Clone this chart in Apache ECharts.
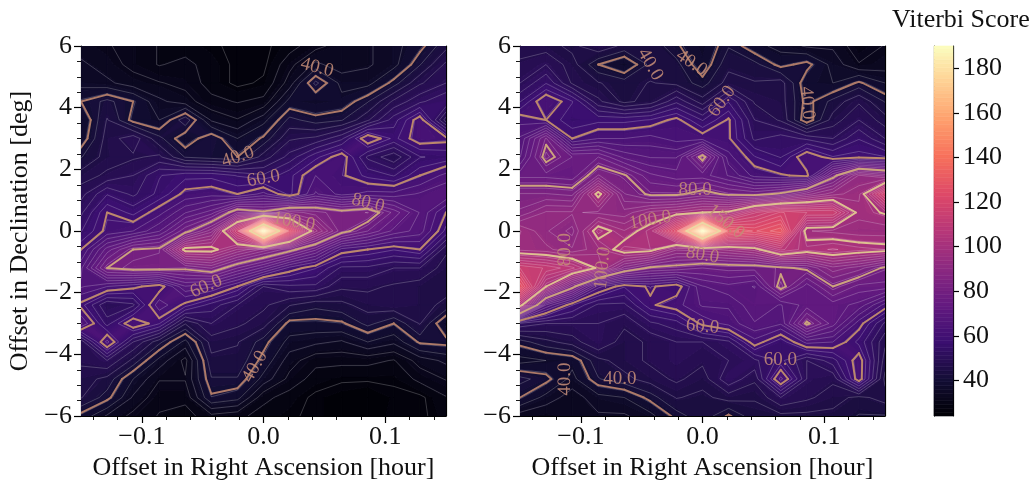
<!DOCTYPE html>
<html><head><meta charset="utf-8">
<style>html,body{margin:0;padding:0;background:#fff}#c{width:1032px;height:483px}</style>
<script src="https://cdn.jsdelivr.net/npm/echarts@6/dist/echarts.min.js"></script>
</head><body><div id="c"></div>
<script>
const raValues=[-0.15,-0.12857,-0.10714,-0.08571,-0.06429,-0.04286,-0.02143,0,0.02143,0.04286,0.06429,0.08571,0.10714,0.12857,0.15];
const decValues=[6,5.4,4.8,4.2,3.6,3,2.4,1.8,1.2,0.6,0,-0.6,-1.2,-1.8,-2.4,-3,-3.6,-4.2,-4.8,-5.4,-6];
const leftScores=[
[33,32,31,29,28,27,26,26,28,31,33,34,36,39,44],
[35,33,31,29,30,28,26,26,31,35,33,34,36,42,48],
[36,35,33,32,31,28,26,27,33,43,36,36,41,47,50],
[40,43,40,35,33,30,29,30,38,37,38,42,48,52,55],
[37,45,39,37,44,34,32,36,43,41,42,47,54,62,46],
[38,46,49,43,38,42,37,40.5,47,48,52,63,57,62,61],
[42,46,47,48,42,41,40,46,51,57,62,52,48,55,56],
[46,48,50,55,57,57,55,53,57,63,60.5,57,55,60,64],
[49,55,52,56,61,62,60,64,57,66,62,64,64,66,68],
[52,60,57,62,68,72,84,81,88,85,82,84,75,68,60],
[55,61,63,68,78,88,115,188,125,95,82,76,70,67,57],
[60,72,80,81,102,102,94,88,82,74,62,60,58,60,48],
[65,80,82,82,81,84,76,70,62,58,52,52,50,50,46],
[66,63,61,58,68,66,60,50,52,52,48,48,47,46,46],
[59,50,52,65,59,54,50,48,45,43,44,46,47,46,44],
[66,54,63,58,45,50,48,46,39,39,39.5,43,40,45,37],
[48,64,50,43,36,46,45,41,36,35,34,37,35,40.5,41],
[48,50,44,36,31,44,44,39,33,30,30,30,29,33,35],
[46,44,37,32,32,42,42,36,31,28,27,27,27,30,32],
[45,41,34,30,30,39.5,38,30,28,26,25,24,26,26,29],
[39,34,31,29,28,31,30,28,27,26,25,25,26,26,28]];
const rightScores=[
[46,46,44,47,44,44,40.5,37,42,38,36,34,34,30,32],
[48,50,46,40,37,43,43,38,44,43,39,41,36,32,33],
[50,55,47,45,43.5,45,44,41,46,45,46,38,37,40.5,37],
[55,63,58,48,44,46,52,46,55,47,46,39,43,47,42],
[62,60,56,57,57,58,61,55,60.5,50,47,38,46,50,46],
[66,79,60,63,63,64,62,62,60.5,52,54,52,50,55,50],
[68,82,76,76,70,68,68,82,64,58,55,63,58,59,58],
[75,75,74,84,80.5,74,72,72,68,62,60.5,59,78,92,88],
[84,84,83,102,84,79,79,82,79,78,81,88,93,96,118],
[87,92,92,91,90,95,97,100,101,112,118,115,115,98,100.5],
[97,92,88,103,97,103,125,190,130,125,130,97,96,95,95],
[96,95,92,96,103,102,92,93,95,98,108,103,105,103,102],
[115,112,108,99,85,79,78,76,77,77,79,81,88,85,79],
[128,100,82,64,58,60.5,58,68,70,68,82,72,80,75,75],
[103,68,58,52,52,59.5,62,66,66,70,68,72,72,70,62],
[52,50,50,50,48,52,54,61,64,68,66,81,72,61.5,52],
[41,44,46,50,46,48,50,50,52,62,56,64,63,57,48],
[36,37,38,44,46,48,50,48,50,52,56,50,54,62,46],
[43,41,36,42,44,46,48,46,52,48,64,50,48,62,44],
[40,36,33,36,37,41,45,44,46,45,50,48,46,44,46],
[33,32,33,34,34,36,41,44,39.5,44,44,44,44,42,42]];
const raMajor=[-0.1,0,0.1];
const raMinor=[-0.14,-0.12,-0.08,-0.06,-0.04,-0.02,0.02,0.04,0.06,0.08,0.12,0.14];
const cbTicks=[40,60,80,100,120,140,160,180];
const thickLevels=[40,60,80,100,150];
const thickColors=['#ad7a68','#bc886c','#cca37e','#dec190','#ecd8a4'];
const scoreMin=24, scoreMax=190;
const leftLabels=[["40.0",0.044,5.3,-0.25],["40.0",-0.021,2.4,0.33],["60.0",0,1.7,0.18],["80.0",0.086,0.9,-0.25],["100.0",0.025,0.3,-0.17],["60.0",-0.047,-1.8,0.42],["40.0",-0.007,-4.4,1.05]];
const rightLabels=[["40.0",-0.043,5.4,-1.05],["40.0",-0.009,5.45,-0.6],["60.0",0.016,4.2,0.95],["40.0",0.086,4.15,-1.48],["80.0",-0.006,1.33,0],["100.0",-0.043,0.35,0.17],["150.0",0.019,0.3,-0.7],["80.0",0,-0.78,-0.17],["80.0",-0.113,-0.6,1.57],["100.0",-0.082,-1.2,1.48],["60.0",0,-3.1,-0.09],["60.0",0.064,-4.2,0],["40.0",-0.113,-4.8,1.57],["40.0",-0.068,-4.8,0]];

const stops=[[0,0,4],[20,14,54],[59,15,112],[100,26,128],[140,41,129],[183,55,121],[222,73,104],[247,112,92],[254,159,109],[254,207,146],[252,253,191]];
function magma(v){let t=Math.max(0,Math.min(1,(v-scoreMin)/(scoreMax-scoreMin)))*10;let i=Math.min(9,Math.floor(t)),f=t-i;
 const a=stops[i],b=stops[i+1];return `rgb(${a.map((c,k)=>Math.round(c+(b[k]-c)*f)).join(',')})`;}
function clip(poly,L,above){const out=[];for(let i=0;i<poly.length;i++){const p=poly[i],q=poly[(i+1)%poly.length];
 const pi=above?p[2]>=L:p[2]<=L, qi=above?q[2]>=L:q[2]<=L;
 if(pi)out.push(p);
 if(pi!==qi){const f=(L-p[2])/(q[2]-p[2]);out.push([p[0]+(q[0]-p[0])*f,p[1]+(q[1]-p[1])*f,L]);}}
 return out;}
const fillStep=1.7;
function cellCorners(Z,i,j){return [[raValues[i],decValues[j],Z[j][i]],[raValues[i+1],decValues[j],Z[j][i+1]],[raValues[i+1],decValues[j+1],Z[j+1][i+1]],[raValues[i],decValues[j+1],Z[j+1][i]]];}
function cells(){const d=[];for(let j=0;j<decValues.length-1;j++)for(let i=0;i<raValues.length-1;i++)d.push([raValues[i],decValues[j],i,j]);return d;}
function fillRender(Z){return function(params,api){const i=api.value(2),j=api.value(3),q=cellCorners(Z,i,j);
 const vs=q.map(p=>p[2]),lo=Math.min(...vs),hi=Math.max(...vs),ch=[];
 let k0=Math.floor((lo-scoreMin)/fillStep),k1=Math.floor((hi-scoreMin)/fillStep);
 for(let k=k0;k<=k1;k++){const a=scoreMin+k*fillStep,b=a+fillStep;let p=clip(clip(q,a,true),b,false);if(p.length<3)continue;
  const col=magma(a+fillStep/2);
  ch.push({type:'polygon',shape:{points:p.map(v=>api.coord([v[0],v[1]]))},style:{fill:col,stroke:col,lineWidth:1}});}
 return {type:'group',children:ch};};}
function segs(q,L){const pts=[];for(let e=0;e<4;e++){const p=q[e],r=q[(e+1)%4];if((p[2]>=L)!==(r[2]>=L)){const f=(L-p[2])/(r[2]-p[2]);pts.push([p[0]+(r[0]-p[0])*f,p[1]+(r[1]-p[1])*f]);}}
 if(pts.length===2)return [[pts[0],pts[1]]];
 if(pts.length===4){const c=(q[0][2]+q[1][2]+q[2][2]+q[3][2])/4;const up=q[0][2]>=L;
  return (c>=L)===up?[[pts[0],pts[1]],[pts[2],pts[3]]]:[[pts[0],pts[3]],[pts[1],pts[2]]];}
 return [];}
const thinStep=2.6;
function lineRender(Z,thick){return function(params,api){const i=api.value(2),j=api.value(3),q=cellCorners(Z,i,j),ch=[];
 const vs=q.map(p=>p[2]),lo=Math.min(...vs),hi=Math.max(...vs);
 const draw=(L,style)=>{for(const s of segs(q,L+1e-4)){const a=api.coord(s[0]),b=api.coord(s[1]);
  ch.push({type:'line',shape:{x1:a[0],y1:a[1],x2:b[0],y2:b[1]},style});}};
 if(thick){thickLevels.forEach((L,k)=>{if(L>=lo&&L<=hi)draw(L,{stroke:thickColors[k],lineWidth:1.9,lineCap:'round'});});}
 else{for(let L=scoreMin;L<scoreMax;L+=thinStep){if(L>=lo&&L<=hi)draw(L,{stroke:'rgba(255,255,255,0.36)',lineWidth:0.6});}}
 return {type:'group',children:ch};};}
function labelRender(labels){return function(params,api){const c=api.coord([api.value(0),api.value(1)]),L=labels[params.dataIndex];
 return {type:'text',x:c[0],y:c[1],rotation:L[3],style:{text:L[0],fill:'rgba(196,140,118,0.88)',font:'19px "Liberation Serif"',align:'center',verticalAlign:'middle'}};};}
const tickFont={color:'#111',fontFamily:'Liberation Serif',fontSize:26};
const minus=v=>String(v).replace('-','\u2212');
const xAxes=[],yAxes=[],grids=[],series=[];
[[81,leftScores,leftLabels],[520,rightScores,rightLabels]].forEach(([left,Z,labels],g)=>{
 grids.push({left,top:46,width:365,height:370,outerBoundsMode:'none'});
 const bx=xAxes.length,by=yAxes.length;
 xAxes.push({type:'value',gridIndex:g,position:'bottom',min:-0.15,max:0.15,splitLine:{show:false},
  name:'Offset in Right Ascension [hour]',nameLocation:'middle',nameGap:39,nameTextStyle:{color:'#111',fontFamily:'Liberation Serif',fontSize:26},
  axisLine:{onZero:false,lineStyle:{color:'#000',width:1.2}},axisTick:{length:7,customValues:raMajor,lineStyle:{color:'#000',width:1.2}},
  axisLabel:{...tickFont,margin:8,customValues:raMajor,formatter:v=>minus(v.toFixed(1))}});
 xAxes.push({type:'value',gridIndex:g,position:'bottom',min:-0.15,max:0.15,splitLine:{show:false},axisLine:{show:false,onZero:false},
  axisTick:{length:4,customValues:raMinor,lineStyle:{color:'#000',width:0.9}},axisLabel:{show:false,customValues:raMinor}});
 xAxes.push({type:'value',gridIndex:g,position:'top',min:-0.15,max:0.15,splitLine:{show:false},axisLine:{onZero:false,lineStyle:{color:'#000',width:1.2}},axisTick:{show:false},axisLabel:{show:false}});
 yAxes.push({type:'value',gridIndex:g,position:'left',min:-6,max:6,interval:2,splitLine:{show:false},
  name:g===0?'Offset in Declination [deg]':'',nameLocation:'middle',nameGap:48,nameRotate:90,nameTextStyle:{color:'#111',fontFamily:'Liberation Serif',fontSize:26},
  axisLine:{onZero:false,lineStyle:{color:'#000',width:1.2}},axisTick:{length:7,lineStyle:{color:'#000',width:1.2}},
  minorTick:{show:true,splitNumber:4,length:4,lineStyle:{color:'#000',width:0.9}},axisLabel:{...tickFont,margin:9,formatter:v=>minus(v)}});
 yAxes.push({type:'value',gridIndex:g,position:'right',min:-6,max:6,interval:2,splitLine:{show:false},axisLine:{onZero:false,lineStyle:{color:'#000',width:1.2}},axisTick:{show:false},axisLabel:{show:false}});
 const common={type:'custom',xAxisIndex:bx,yAxisIndex:by,coordinateSystem:'cartesian2d',silent:true,animation:false,clip:true,data:cells()};
 series.push({...common,z:1,renderItem:fillRender(Z)});
 series.push({...common,z:2,renderItem:lineRender(Z,false)});
 series.push({...common,z:3,renderItem:lineRender(Z,true)});
 series.push({type:'custom',xAxisIndex:bx,yAxisIndex:by,silent:true,animation:false,z:4,renderItem:labelRender(labels),
   encode:{x:0,y:1},data:labels.map(l=>[l[1],l[2]])});
});
// colour bar
const cbX=xAxes.length,cbY=yAxes.length;
grids.push({left:934,top:46,width:19,height:370,outerBoundsMode:'none'});
xAxes.push({type:'value',gridIndex:2,min:0,max:1,show:false});
yAxes.push({type:'value',gridIndex:2,position:'left',min:scoreMin,max:scoreMax,splitLine:{show:false},axisLine:{onZero:false,lineStyle:{color:'#000',width:1.2}},axisTick:{show:false},axisLabel:{show:false}});
yAxes.push({type:'value',gridIndex:2,position:'right',min:scoreMin,max:scoreMax,splitLine:{show:false},
 axisLine:{onZero:false,lineStyle:{color:'#000',width:1.2}},axisTick:{length:6,customValues:cbTicks,lineStyle:{color:'#000',width:1.2}},
 axisLabel:{...tickFont,margin:10,customValues:cbTicks}});
const cbData=[];for(let v=scoreMin;v<scoreMax;v+=fillStep)cbData.push([0,v]);
series.push({type:'custom',xAxisIndex:cbX,yAxisIndex:cbY,silent:true,animation:false,z:1,data:cbData,encode:{x:0,y:1},
 renderItem:(p,api)=>{const v=api.value(1),a=api.coord([0,v]),b=api.coord([1,Math.min(scoreMax,v+fillStep)]),col=magma(v+fillStep/2);
  return {type:'rect',shape:{x:a[0],y:b[1],width:b[0]-a[0],height:a[1]-b[1]},style:{fill:col,stroke:col,lineWidth:0.6}};}});
const chart=echarts.init(document.getElementById('c'),null,{renderer:'canvas'});
chart.setOption({animation:false,backgroundColor:'#fff',
 title:{text:'Viterbi Score',left:887,top:2,textStyle:{color:'#111',fontFamily:'Liberation Serif',fontSize:26,fontWeight:'normal'}},
 grid:grids,xAxis:xAxes,yAxis:yAxes,series});
</script></body></html>
